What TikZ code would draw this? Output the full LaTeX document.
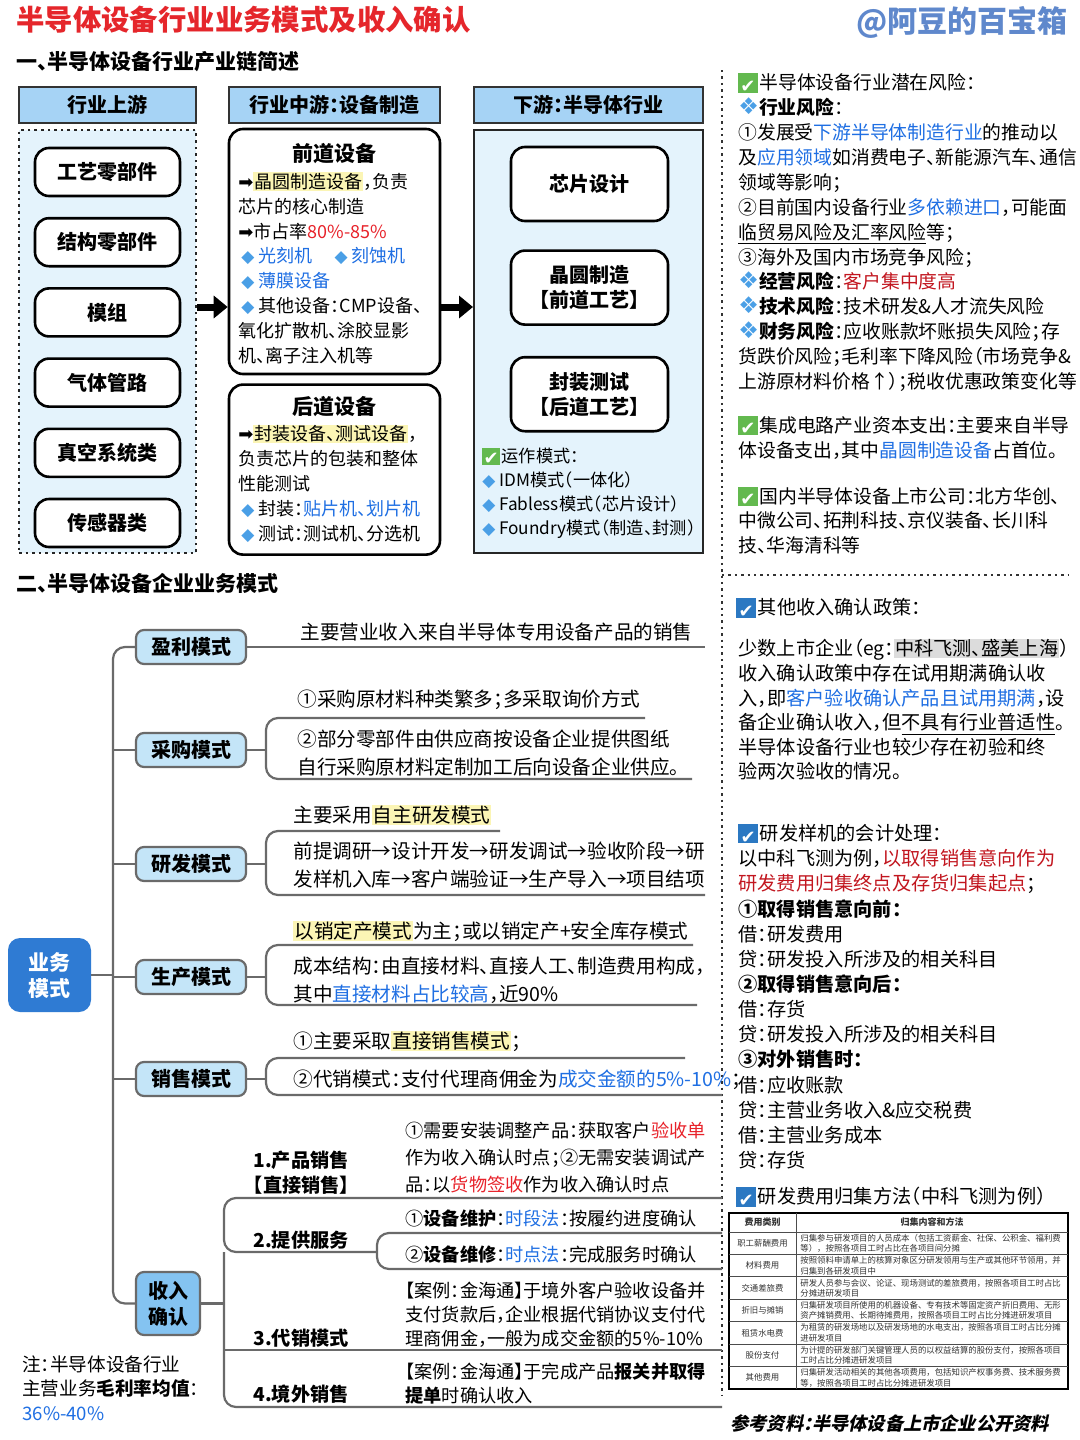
\documentclass[tikz,border=0pt]{standalone}
\usepackage{fontspec}
\setmainfont{Noto Sans CJK SC}[RawFeature={+halt}]
\newfontfamily\symfont{DejaVu Sans}
\newfontfamily\tabfont{Noto Sans CJK SC}
\newfontfamily\slantfont{Noto Sans CJK SC}[FakeSlant=0.22,RawFeature={+halt}]
\usepackage{tikz}
\usetikzlibrary{positioning, arrows.meta, calc}
\usepackage{xcolor}
\definecolor{titlered}{HTML}{E5262B}
\definecolor{wmblue}{HTML}{5F88CC}
\definecolor{hdrfill}{HTML}{A6D3F5}
\definecolor{panelfill}{HTML}{E4F3FC}
\definecolor{bizblue}{HTML}{2F7BD3}
\definecolor{brfill}{HTML}{C4E5F8}
\definecolor{incfill}{HTML}{84C3F1}
\definecolor{linegray}{HTML}{6A6A6A}
\definecolor{txtblue}{HTML}{1F6FE3}
\definecolor{txtred}{HTML}{E8222A}
\definecolor{darkred}{HTML}{C2161F}
\definecolor{hlyellow}{HTML}{FBF5B5}
\definecolor{hlgray}{HTML}{DCDCDC}
\definecolor{chkgreen}{HTML}{63B94F}
\definecolor{chkblue}{HTML}{2B78C2}
\definecolor{diablue}{HTML}{4A9FE6}
\newcommand{\bl}[1]{\textcolor{txtblue}{#1}}
\newcommand{\rd}[1]{\textcolor{txtred}{#1}}
\newcommand{\dr}[1]{\textcolor{darkred}{#1}}
\newcommand{\hly}[1]{{\setlength{\fboxsep}{0.5pt}\colorbox{hlyellow}{#1}}}
\newcommand{\hlg}[1]{{\setlength{\fboxsep}{0.5pt}\colorbox{hlgray}{#1}}}
\newcommand{\tick}[1]{\raisebox{-0.13em}{\setlength{\fboxsep}{0pt}\colorbox{#1}{\makebox[1.02em][c]{\rule[-0.02em]{0pt}{1.02em}\textcolor{white}{\symfont\fontsize{9}{9}\selectfont ✔}}}}\hspace{0.1em}}
\newcommand{\chk}{\tick{chkgreen}}
\newcommand{\bchk}{\tick{chkblue}}
\newcommand{\dia}{\textcolor{diablue}{\symfont\fontsize{8.5}{8}\selectfont ◆}}
\newcommand{\flw}{\textcolor{diablue}{\symfont\fontsize{11.5}{10}\selectfont ❖}}
\newcommand{\rarr}{{\symfont ➡}}

\begin{document}
\begin{tikzpicture}[x=0.5pt, y=-0.5pt,
    tx/.style={inner sep=0pt, anchor=west, align=left},
    body/.style={tx, font=\fontsize{9}{12.45}\selectfont},
    rbody/.style={tx, font=\fontsize{9.4}{12.45}\selectfont},
    lbody/.style={tx, font=\fontsize{9.8}{14}\selectfont},
    sbody/.style={tx, font=\fontsize{9.1}{13.5}\selectfont},
    lbl/.style={tx, font=\bfseries\fontsize{9.6}{12.5}\selectfont},
    hdrbox/.style={draw=black!80, line width=0.9pt, fill=hdrfill, minimum height=18pt, font=\bfseries\fontsize{10}{12}\selectfont},
    itembox/.style={draw=black, line width=1.3pt, fill=white, rounded corners=7pt, minimum width=72.5pt, minimum height=24pt, font=\bfseries\fontsize{10}{12.5}\selectfont, align=center},
    midbox/.style={draw=black, line width=1.3pt, fill=white, rounded corners=7pt, minimum width=105.5pt},
    brbox/.style={draw=linegray, line width=1.1pt, fill=brfill, rounded corners=4pt, minimum width=55pt, minimum height=17pt, font=\bfseries\fontsize{10}{12}\selectfont},
    bizbox/.style={fill=bizblue, rounded corners=6pt, minimum width=41.5pt, minimum height=37pt, text=white, align=center, font=\bfseries\fontsize{10.5}{13}\selectfont},
    tree/.style={draw=linegray, line width=1.1pt, rounded corners=6pt},
    fatarrow/.style={line width=3.5pt, -{Triangle[length=7pt, width=11pt]}},
    divider/.style={dotted, line width=1.2pt, black!80},
    tabline/.style={line width=0.4pt, black!70},
    tabtxt/.style={inner sep=0pt, align=left, font=\tabfont\fontsize{4.2}{5.3}\selectfont, text=black!80}]
  \useasboundingbox (0,0) rectangle (1080,1440);
  \fill[white] (0,0) rectangle (1080,1440);

  % title and section heading
  \node[tx, text=titlered, font=\bfseries\fontsize{14.2}{16}\selectfont] (title) at (16,20) {半导体设备行业业务模式及收入确认};
  \node[anchor=east, inner sep=0pt, text=wmblue, font=\bfseries\fontsize{15}{17}\selectfont] (brand) at (1068,22) {@阿豆的百宝箱};
  \node[tx, font=\bfseries\fontsize{10.5}{12}\selectfont] (sec1) at (16,62) {一、半导体设备行业产业链简述};

  % chain headers
  \node[hdrbox, minimum width=88.5pt] (hUp) at (107.5,105) {行业上游};
  \node[hdrbox, minimum width=105.5pt] (hMid) at (334.5,105) {行业中游：设备制造};
  \node[hdrbox, minimum width=114.5pt] (hDn) at (588.5,105) {下游：半导体行业};

  % upstream
  \node[draw=black!85, dotted, line width=1.3pt, fill=panelfill, minimum width=88.5pt, minimum height=211.5pt] (upPanel) at (107.5,341.5) {};
  \node[itembox] (up1) at (107.5,172) {工艺零部件};
  \node[itembox, below=9.8pt of up1] (up2) {结构零部件};
  \node[itembox, below=9.8pt of up2] (up3) {模组};
  \node[itembox, below=9.8pt of up3] (up4) {气体管路};
  \node[itembox, below=9.8pt of up4] (up5) {真空系统类};
  \node[itembox, below=9.8pt of up5] (up6) {传感器类};

  % midstream
  \node[midbox, minimum height=122.5pt] (midA) at (334.5,251.5) {};
  \node[midbox, minimum height=85pt, below=4pt of midA] (midB) {};
  \node[inner sep=0pt, font=\bfseries\fontsize{10.5}{12}\selectfont] (midAt) at (334.5,154) {前道设备};
  \node[body] (midAb) at (238,268) {\rarr\hly{晶圆制造设备}，负责\\
    芯片的核心制造\\
    \rarr 市占率\rd{80\%-85\%}\\
    \,\dia\ \bl{光刻机}\quad\ \dia\ \bl{刻蚀机}\\
    \,\dia\ \bl{薄膜设备}\\
    \,\dia\ 其他设备：CMP设备、\\
    氧化扩散机、涂胶显影\\
    机、离子注入机等};
  \node[inner sep=0pt, font=\bfseries\fontsize{10.5}{12}\selectfont] (midBt) at (334.5,407) {后道设备};
  \node[body] (midBb) at (238,483.5) {\rarr\hly{封装设备、测试设备}，\\
    负责芯片的包装和整体\\
    性能测试\\
    \,\dia\ 封装：\bl{贴片机、划片机}\\
    \,\dia\ 测试：测试机、分选机};

  % downstream
  \node[draw=black!85, line width=1pt, fill=panelfill, minimum width=114.5pt, minimum height=211.5pt] (dnPanel) at (588.5,341.5) {};
  \node[itembox, minimum width=78.5pt, minimum height=37pt] (dn1) at (589.5,184) {芯片设计};
  \node[itembox, minimum width=78.5pt, minimum height=37pt, below=13.5pt of dn1] (dn2) {晶圆制造\\【前道工艺】};
  \node[itembox, minimum width=78.5pt, minimum height=37pt, below=15pt of dn2] (dn3) {封装测试\\【后道工艺】};
  \node[tx, font=\fontsize{8.6}{12}\selectfont] (ops) at (482,493) {\chk 运作模式：\\
    \dia\ IDM模式（一体化）\\
    \dia\ Fabless模式（芯片设计）\\
    \dia\ Foundry模式（制造、封测）};

  \coordinate (arrY) at (0,307);
  \draw[fatarrow] (upPanel.east |- arrY) -- (midA.west |- arrY);
  \draw[fatarrow] (midA.east |- arrY) -- (dnPanel.west |- arrY);

  % right panel
  \coordinate (dvTop) at (722,70);
  \coordinate (dvBot) at (722,1395);
  \coordinate (dvR) at (1068,575);
  \draw[divider] (dvTop) -- (dvBot);
  \draw[divider] (dvTop |- dvR) -- (dvR);

  \node[rbody] (risk) at (738,232.5) {\chk 半导体设备行业潜在风险：\\
    \flw\textbf{行业风险}：\\
    ①发展受\bl{下游半导体制造行业}的推动以\\
    及\bl{应用领域}如消费电子、新能源汽车、通信\\
    领域等影响；\\
    ②目前国内设备行业\bl{多依赖进口}，可能面\\
    \underline{临贸易风险及汇率风险}等；\\
    ③海外及国内市场竞争风险；\\
    \flw\textbf{经营风险}：\dr{客户集中度高}\\
    \flw\textbf{技术风险}：技术研发\&人才流失风险\\
    \flw\textbf{财务风险}：应收账款坏账损失风险；存\\
    货跌价风险；毛利率下降风险（市场竞争\&\\
    上游原材料价格↑）；税收优惠政策变化等};
  \node[rbody] (capex) at (738,437.5) {\chk 集成电路产业资本支出：主要来自半导\\
    体设备支出，其中\bl{晶圆制造设备}占首位。};
  \node[rbody] (listed) at (738,520.5) {\chk 国内半导体设备上市公司：北方华创、\\
    中微公司、拓荆科技、京仪装备、长川科\\
    技、华海清科等};

  \node[tx, font=\fontsize{9.6}{12.5}\selectfont] (pol) at (736,608) {\bchk 其他收入确认政策：};
  \node[tx, font=\fontsize{9.6}{12.3}\selectfont] (polTxt) at (738,709.5) {少数上市企业（eg：\hlg{中科飞测、盛美上海}）\\
    收入确认政策中存在试用期满确认收\\
    入，即\bl{客户验收确认产品且试用期满}，设\\
    备企业确认收入，但\underline{不具有行业普适性}。\\
    半导体设备行业也较少存在初验和终\\
    验两次验收的情况。};
  \node[tx, font=\fontsize{9.6}{12.58}\selectfont] (rdTxt) at (738,996.5) {\bchk 研发样机的会计处理：\\
    以中科飞测为例，\dr{以取得销售意向作为}\\
    \dr{研发费用归集终点及存货归集起点}；\\
    \textbf{①取得销售意向前：}\\
    借：研发费用\\
    贷：研发投入所涉及的相关科目\\
    \textbf{②取得销售意向后：}\\
    借：存货\\
    贷：研发投入所涉及的相关科目\\
    \textbf{③对外销售时：}\\
    借：应收账款\\
    贷：主营业务收入\&应交税费\\
    借：主营业务成本\\
    贷：存货};
  \node[tx, font=\fontsize{9.6}{12.5}\selectfont] (tabT) at (736,1197) {\bchk 研发费用归集方法（中科飞测为例）};

  % cost table
  \draw[line width=1pt] (729,1213) rectangle (1068,1389);
  \draw[tabline] (729,1232) -- (1068,1232);
  \draw[tabline] (796,1213) -- (796,1389);
  \foreach \k in {1,...,6}
    \draw[tabline] (729,{1232+\k*22.43}) -- (1068,{1232+\k*22.43});
  \node[tabtxt, font=\tabfont\bfseries\fontsize{4.5}{5.3}\selectfont] (tabH1) at (762.5,1222.5) {费用类别};
  \node[tabtxt, font=\tabfont\bfseries\fontsize{4.5}{5.3}\selectfont] (tabH2) at (932,1222.5) {归集内容和方法};
  \foreach \cat/\la/\lb [count=\i] in {
      职工薪酬费用/归集参与研发项目的人员成本（包括工资薪金、社保、公积金、福利费/等），按照各项目工时占比在各项目间分摊,
      材料费用/按照领料申请单上的核算对象区分研发领用与生产或其他环节领用，并/归集到各研发项目中,
      交通差旅费/研发人员参与会议、论证、现场测试的差旅费用，按照各项目工时占比/分摊进研发项目,
      折旧与摊销/归集研发项目所使用的机器设备、专有技术等固定资产折旧费用、无形/资产摊销费用、长期待摊费用，按照各项目工时占比分摊进研发项目,
      租赁水电费/为租赁的研发场地以及研发场地的水电支出，按照各项目工时占比分摊/进研发项目,
      股份支付/为计提的研发部门关键管理人员的以权益结算的股份支付，按照各项目/工时占比分摊进研发项目,
      其他费用/归集研发活动相关的其他各项费用，包括知识产权事务费、技术服务费/等，按照各项目工时占比分摊进研发项目} {
    \pgfmathsetmacro\rowy{1232+(\i-0.5)*22.43}
    \node[tabtxt] (cat\i) at (762.5,\rowy) {\cat};
    \node[tabtxt, anchor=west] (desc\i) at (800,\rowy) {\la\\\lb};
  }
  \node[tx, font=\slantfont\bfseries\fontsize{9.1}{11}\selectfont] (refs) at (730,1423) {参考资料：半导体设备上市企业公开资料};

  % business model tree
  \node[tx, font=\bfseries\fontsize{10.5}{12}\selectfont] (sec2) at (16,583) {二、半导体设备企业业务模式};
  \node[bizbox] (biz) at (49.5,975) {业务\\模式};
  \node[brbox] (br1) at (191,647) {盈利模式};
  \node[brbox] (br2) at (191,750) {采购模式};
  \node[brbox] (br3) at (191,864) {研发模式};
  \node[brbox] (br4) at (191,977) {生产模式};
  \node[brbox] (br5) at (191,1079) {销售模式};
  \node[brbox, fill=incfill, minimum width=32pt, minimum height=31.5pt, align=center, font=\bfseries\fontsize{10}{13}\selectfont] (brInc) at (168,1303.5) {收入\\确认};
  \coordinate (trunk) at (113,975);
  \draw[tree] (br1.west) -- (br1.west -| trunk) -- (brInc.west -| trunk) -- (brInc.west);
  \draw[tree] (biz.east) -- (biz.east -| trunk);
  \foreach \b in {br2,br3,br4,br5}
    \draw[tree] (\b.west -| trunk) -- (\b.west);

  % profit
  \coordinate (e1) at (705,647);
  \draw[tree] (br1.east) -- (e1);
  \node[lbody] (t1) at (300,632) {主要营业收入来自半导体专用设备产品的销售};

  % purchasing
  \coordinate (k2) at (266,750);
  \coordinate (a2) at (645,718);
  \coordinate (b2) at (692,779);
  \draw[tree] (br2.east) -- (k2);
  \draw[tree] (a2) -- (a2 -| k2) -- (b2 -| k2) -- (b2);
  \node[lbody] (t2a) at (297,700) {①采购原材料种类繁多；多采取询价方式};
  \node[lbody] (t2b) at (297,753) {②部分零部件由供应商按设备企业提供图纸\\自行采购原材料定制加工后向设备企业供应。};

  % R&D
  \coordinate (k3) at (266,864);
  \coordinate (a3) at (500,831);
  \coordinate (b3) at (705,895);
  \draw[tree] (br3.east) -- (k3);
  \draw[tree] (a3) -- (a3 -| k3) -- (b3 -| k3) -- (b3);
  \node[lbody] (t3a) at (293,815) {主要采用\hly{自主研发模式}};
  \node[lbody] (t3b) at (293,865.5) {前提调研→设计开发→研发调试→验收阶段→研\\发样机入库→客户端验证→生产导入→项目结项};

  % production
  \coordinate (k4) at (266,977);
  \coordinate (a4) at (693,945);
  \coordinate (b4) at (697,1005);
  \draw[tree] (br4.east) -- (k4);
  \draw[tree] (a4) -- (a4 -| k4) -- (b4 -| k4) -- (b4);
  \node[lbody] (t4a) at (293,931) {\hly{以销定产模式}为主；或以销定产+安全库存模式};
  \node[lbody] (t4b) at (293,980) {成本结构：由直接材料、直接人工、制造费用构成，\\其中\bl{直接材料占比较高}，近90\%};

  % sales
  \coordinate (k5) at (266,1079);
  \coordinate (a5) at (685,1058);
  \coordinate (b5) at (722,1095);
  \draw[tree] (br5.east) -- (k5);
  \draw[tree] (a5) -- (a5 -| k5) -- (b5 -| k5) -- (b5);
  \node[lbody] (t5a) at (293,1041) {①主要采取\hly{直接销售模式}；};
  \node[lbody] (t5b) at (293,1080) {②代销模式：支付代理商佣金为\bl{成交金额的5\%-10\%}；};

  % revenue recognition
  \coordinate (iX) at (224,1303.5);
  \coordinate (i1) at (722,1198);
  \coordinate (i2) at (377,1252);
  \coordinate (i3) at (722,1350);
  \coordinate (i4) at (722,1407);
  \coordinate (s1) at (722,1233);
  \coordinate (s2) at (722,1269);
  \draw[tree] (brInc.east) -- (iX);
  \draw[tree] (i1) -- (i1 -| iX) -- (i2 -| iX) -- (i2);
  \draw[tree] (i2 -| iX) -- (i4 -| iX) -- (i4);
  \draw[tree] (i3 -| iX) -- (i3);
  \draw[tree] (s1) -- (s1 -| i2) -- (s2 -| i2) -- (s2);
  \node[lbl] (r1) at (253,1172.5) {1.产品销售\\【直接销售】};
  \node[sbody] (r1d) at (405,1158) {①需要安装调整产品：获取客户\rd{验收单}\\作为收入确认时点；②无需安装调试产\\品：以\rd{货物签收}作为收入确认时点};
  \node[lbl] (r2) at (253,1240) {2.提供服务};
  \node[sbody] (r2a) at (405,1219) {①\textbf{设备维护}：\bl{时段法}：按履约进度确认};
  \node[sbody] (r2b) at (405,1255) {②\textbf{设备维修}：\bl{时点法}：完成服务时确认};
  \node[lbl] (r3) at (253,1338) {3.代销模式};
  \node[tx, font=\fontsize{9.1}{12}\selectfont] (r3d) at (405,1315) {【案例：金海通】于境外客户验收设备并\\支付货款后，企业根据代销协议支付代\\理商佣金，一般为成交金额的5\%-10\%};
  \node[lbl] (r4) at (253,1394) {4.境外销售};
  \node[tx, font=\fontsize{9.1}{12}\selectfont] (r4d) at (405,1383) {【案例：金海通】于完成产品\textbf{报关并取得}\\\textbf{提单}时确认收入};
  \node[tx, font=\fontsize{9.3}{12.3}\selectfont] (note) at (22,1388) {注：半导体设备行业\\主营业务\textbf{毛利率均值}：\\\bl{36\%-40\%}};
\end{tikzpicture}
\end{document}
